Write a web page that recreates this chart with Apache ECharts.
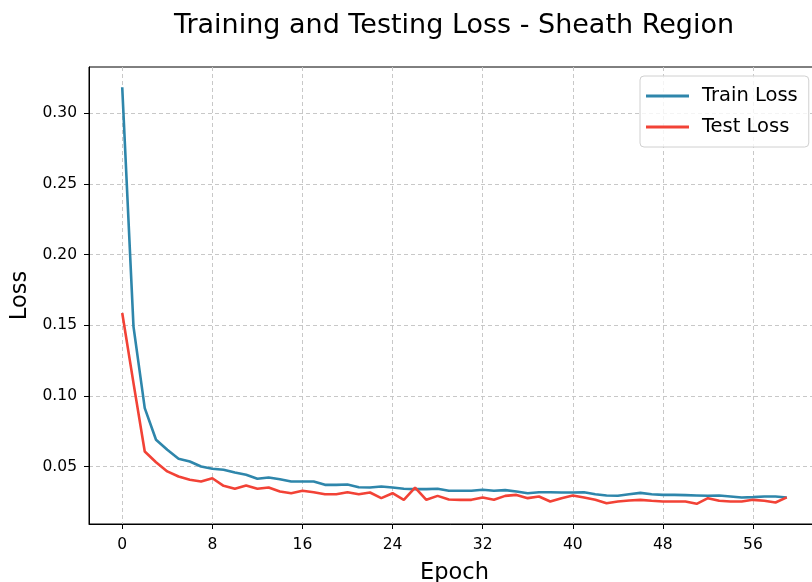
<!DOCTYPE html>
<html>
<head>
<meta charset="utf-8">
<script src="https://cdn.jsdelivr.net/npm/echarts@6/dist/echarts.min.js"></script>
<style>html,body{margin:0;padding:0;background:#fff;}#c{width:812px;height:582px;}</style>
</head>
<body>
<div id="c"></div>
<script>
const epochs = Array.from({length: 60}, (_, i) => i);
const trainLoss = [0.3184,0.149,0.0913,0.0689,0.0618,0.0554,0.0535,0.0500,0.0484,0.0477,
0.0457,0.0441,0.0413,0.0422,0.0410,0.0394,0.0394,0.0394,0.0370,0.0370,
0.0372,0.0353,0.0351,0.0358,0.0351,0.0342,0.0340,0.0340,0.0342,0.0328,
0.0328,0.0328,0.0335,0.0328,0.0333,0.0323,0.0311,0.0318,0.0318,0.0316,
0.0316,0.0318,0.0304,0.0295,0.0293,0.0304,0.0313,0.0304,0.0299,0.0299,
0.0297,0.0295,0.0293,0.0295,0.0288,0.0281,0.0283,0.0288,0.0288,0.0281];
const testLoss = [0.1586,0.109,0.0606,0.0530,0.0465,0.0429,0.0406,0.0394,0.0417,0.0363,
0.0342,0.0365,0.0342,0.0351,0.0323,0.0311,0.0328,0.0318,0.0304,0.0304,
0.0318,0.0304,0.0316,0.0276,0.0311,0.0264,0.0351,0.0264,0.0292,0.0266,
0.0264,0.0264,0.0280,0.0264,0.0292,0.0299,0.0276,0.0288,0.0252,0.0276,
0.0295,0.0280,0.0264,0.0240,0.0252,0.0259,0.0264,0.0257,0.0252,0.0252,
0.0252,0.0236,0.0276,0.0257,0.0252,0.0252,0.0264,0.0257,0.0245,0.0281];
const xTicks = [0, 8, 16, 24, 32, 40, 48, 56];
const yTicks = [0.05, 0.10, 0.15, 0.20, 0.25, 0.30];

const FONT = 'DejaVu Sans';
const chart = echarts.init(document.getElementById('c'), null, {renderer: 'canvas'});
const gridLine = {show: true, lineStyle: {color: '#c8c8c8', type: [4, 3], width: 1}};
chart.setOption({
  animation: false,
  backgroundColor: '#fff',
  title: {
    text: 'Training and Testing Loss - Sheath Region',
    left: 449, top: 7, textAlign: 'center',
    textStyle: {fontFamily: FONT, fontSize: 27, fontWeight: 'normal', color: '#000'}
  },
  grid: {left: 89, top: 67, width: 731, height: 457, show: true, borderColor: '#000', borderWidth: 1,
    backgroundColor: 'transparent', containLabel: false, outerBoundsMode: 'none'},
  legend: {
    orient: 'vertical', left: 640, top: 76,
    data: ['Train Loss', 'Test Loss'],
    icon: 'rect', itemWidth: 43, itemHeight: 3, itemGap: 11,
    padding: [10, 11, 10, 6],
    backgroundColor: 'rgba(255,255,255,0.8)', borderColor: '#d0d0d0', borderWidth: 1, borderRadius: 4,
    textStyle: {fontFamily: FONT, fontSize: 19.5, color: '#000', padding: [0, 0, 0, 8]}
  },
  xAxis: {
    type: 'value', min: -2.95, max: 61.95,
    name: 'Epoch', nameLocation: 'middle', nameGap: 38,
    nameTextStyle: {fontFamily: FONT, fontSize: 22.5, color: '#000'},
    axisLine: {show: true, onZero: false, lineStyle: {color: '#000', width: 1}},
    axisTick: {show: true, length: 5, lineStyle: {color: '#000'}, customValues: xTicks},
    axisLabel: {customValues: xTicks, fontFamily: FONT, fontSize: 15.5, color: '#000', margin: 13},
    splitLine: gridLine
  },
  yAxis: {
    type: 'value', min: 0.0093, max: 0.3327,
    name: 'Loss', nameLocation: 'middle', nameGap: 51,
    nameTextStyle: {fontFamily: FONT, fontSize: 22.5, color: '#000'},
    axisLine: {show: true, onZero: false, lineStyle: {color: '#000', width: 1}},
    axisTick: {show: true, length: 5, lineStyle: {color: '#000'}, customValues: yTicks},
    axisLabel: {customValues: yTicks, fontFamily: FONT, fontSize: 15.5, color: '#000', margin: 12,
      formatter: v => v.toFixed(2)},
    splitLine: gridLine
  },
  series: [
    {name: 'Train Loss', type: 'line', data: epochs.map((e, i) => [e, trainLoss[i]]),
     showSymbol: false, lineStyle: {color: '#2E86AB', width: 2.6}, itemStyle: {color: '#2E86AB'}, z: 3},
    {name: 'Test Loss', type: 'line', data: epochs.map((e, i) => [e, testLoss[i]]),
     showSymbol: false, lineStyle: {color: '#F24236', width: 2.6}, itemStyle: {color: '#F24236'}, z: 4}
  ]
});
</script>
</body>
</html>
